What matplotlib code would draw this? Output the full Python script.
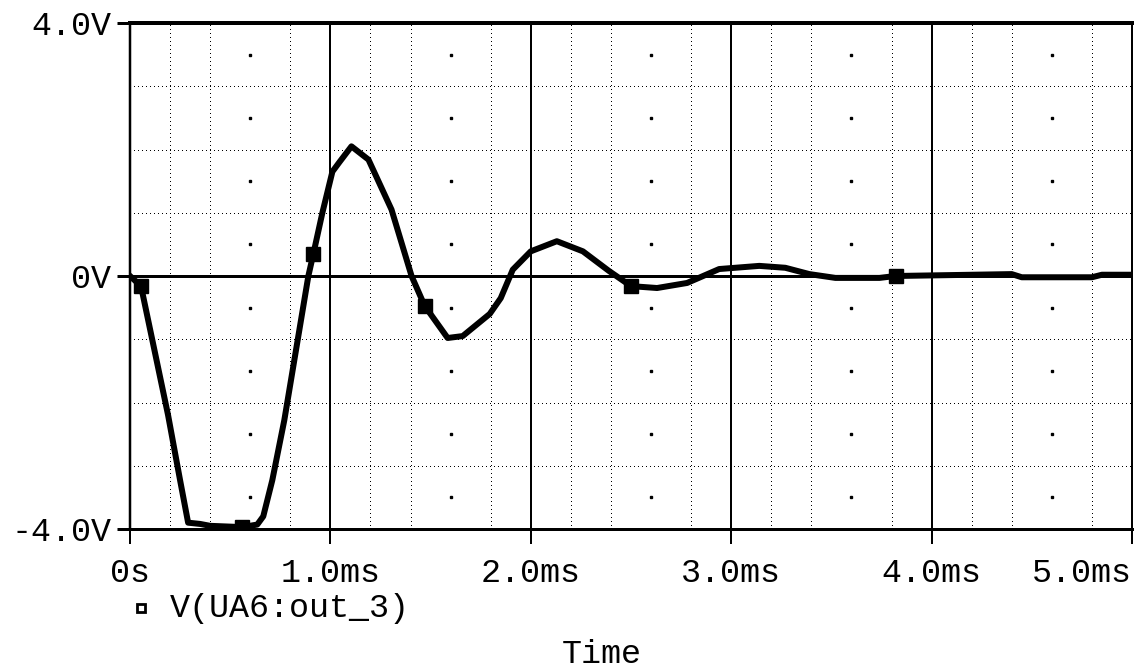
import matplotlib
matplotlib.use("Agg")
from matplotlib import pyplot as plt
from matplotlib.lines import Line2D
import numpy as np

# trace (time in ms, voltage in V)
time_ms = [0.0, 0.055, 0.19, 0.25, 0.29, 0.35, 0.4, 0.56, 0.635, 0.665,
           0.71, 0.77, 0.89, 0.915, 0.96, 1.01, 1.045, 1.105, 1.19, 1.305,
           1.405, 1.47, 1.585, 1.66, 1.795, 1.85, 1.91, 2.0, 2.13, 2.26, 2.39,
           2.5, 2.63, 2.78, 2.94, 3.14, 3.27, 3.39, 3.52, 3.74, 3.82, 4.4,
           4.45, 4.8, 4.85, 5.0]
volts = [0.0, -0.16, -2.2, -3.23, -3.9, -3.92, -3.95, -3.97, -3.93,
         -3.8, -3.23, -2.28, 0.0, 0.35, 1.0, 1.65, 1.8, 2.05, 1.84, 1.05,
         0.0, -0.47, -0.98, -0.95, -0.6, -0.35, 0.1, 0.39, 0.55, 0.39, 0.08,
         -0.16, -0.19, -0.11, 0.11, 0.16, 0.13, 0.03, -0.03, -0.03, 0.0, 0.03,
         -0.02, -0.02, 0.02, 0.02]
marker_times = [0.055, 0.56, 0.915, 1.47, 2.5, 3.82]

x_ticks = [0, 1, 2, 3, 4, 5]
x_labels = ["0s", "1.0ms", "2.0ms", "3.0ms", "4.0ms", "5.0ms"]
y_ticks = [-4, 0, 4]
y_labels = ["-4.0V", "0V", "4.0V"]
trace_name = "V(UA6:out_3)"

mono = "Liberation Mono"
px = 0.72  # one pixel in points at dpi 100

fig = plt.figure(figsize=(11.37, 6.68), dpi=100)
ax = fig.add_axes([130 / 1137, 1 - 529 / 668, 1002 / 1137, 506 / 668])
ax.set_xlim(0, 5)
ax.set_ylim(-4, 4)

# grid, PSpice style
dots = dict(color="black", lw=px, ls=(0, (1, 3)), antialiased=False, zorder=1)
for v in [-3, -2, -1, 1, 2, 3]:
    ax.axhline(v, **dots)
for ms in range(5):
    for frac in [0.2, 0.4, 0.8]:
        ax.axvline(ms + frac, **dots)
    ax.plot([ms + 0.6] * 8, np.arange(-3.5, 4, 1.0), ls="none", marker="s",
            ms=1.5, color="black", antialiased=False, zorder=1)
for ms in [1, 2, 3, 4]:
    ax.axvline(ms, color="black", lw=2 * px, zorder=1)
ax.axhline(0, color="black", lw=3 * px, zorder=2)

mark_idx = [time_ms.index(m) for m in marker_times]
ax.plot(time_ms, volts, color="black", lw=6 * px, marker="s", ms=10.5,
        markevery=mark_idx, zorder=3)

for side, w in [("top", 4), ("bottom", 3), ("left", 2.5), ("right", 2)]:
    ax.spines[side].set_linewidth(w * px)

ax.set_xticks(x_ticks)
ax.set_xticklabels(x_labels)
ax.set_yticks(y_ticks)
ax.set_yticklabels(y_labels)
ax.tick_params(axis="x", direction="out", length=15 * px, width=2 * px, pad=10)
ax.tick_params(axis="y", direction="out", length=13 * px, width=3 * px, pad=4)
for lab in ax.get_xticklabels() + ax.get_yticklabels():
    lab.set_fontfamily(mono)
    lab.set_fontsize(24)
ax.get_xticklabels()[-1].set_horizontalalignment("right")

# legend entry and axis title
fig.add_artist(Line2D([141 / 1137], [1 - 608 / 668], marker="s", ms=6,
                      mfc="white", mec="black", mew=2, ls="none"))
fig.text(170 / 1137, 1 - 608 / 668, trace_name, family=mono, fontsize=24,
         va="center", ha="left")
fig.text(602 / 1137, 1 - 663 / 668, "Time", family=mono, fontsize=24,
         va="baseline", ha="center")

fig.savefig("out.png", dpi=100)
